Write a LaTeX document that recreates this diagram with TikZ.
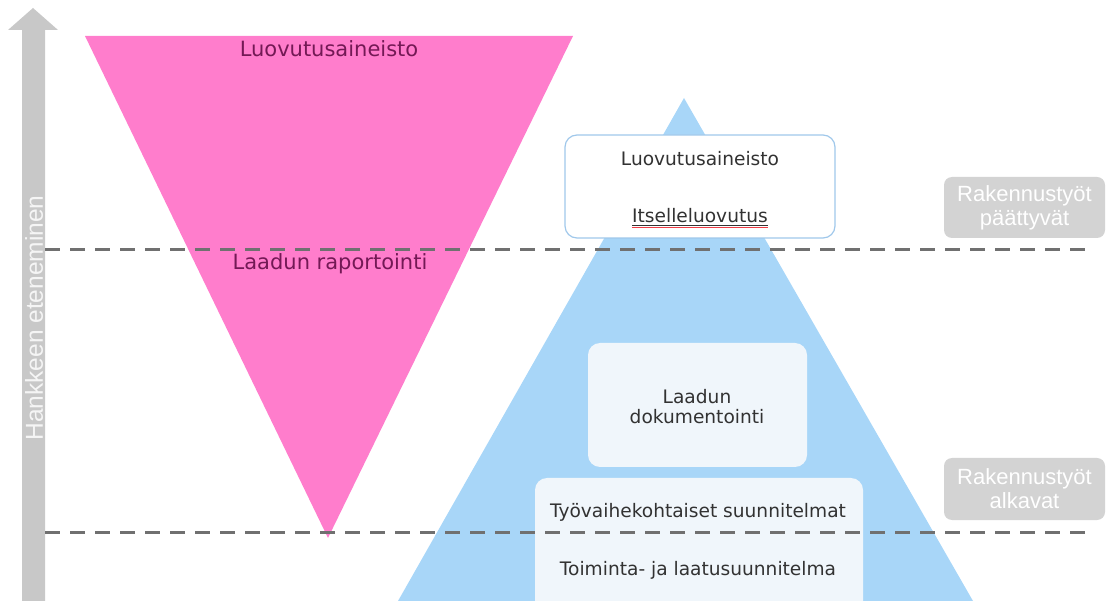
\documentclass[tikz,border=0pt]{standalone}
\usepackage{fontspec}
\setmainfont{DejaVu Sans}
\newfontfamily\axisfont{Liberation Sans}
\definecolor{pinkfill}{RGB}{255,125,204}
\definecolor{pinktext}{RGB}{115,25,85}
\definecolor{bluefill}{RGB}{168,214,248}
\definecolor{boxfill}{RGB}{240,246,251}
\definecolor{boxline}{RGB}{160,200,235}
\definecolor{darktext}{RGB}{50,50,50}
\definecolor{axisgray}{RGB}{200,200,200}
\definecolor{dashgray}{RGB}{112,112,112}
\definecolor{tagfill}{RGB}{211,211,211}
\definecolor{squiggle}{RGB}{240,60,70}
\begin{document}
\begin{tikzpicture}[x=1pt,y=-1pt,
  pinklabel/.style={font=\fontsize{21}{25}\selectfont, text=pinktext, inner sep=0pt},
  boxlabel/.style={font=\fontsize{18.6}{21}\selectfont, text=darktext, inner sep=0pt, align=center},
  lightbox/.style={fill=boxfill, rounded corners=12pt, inner sep=0pt},
  tagbox/.style={fill=tagfill, rounded corners=8pt, inner sep=0pt, align=center,
    text=white, font=\axisfont\fontsize{22}{24}\selectfont},
  phaseline/.style={dashgray, line width=3pt, dash pattern=on 15pt off 10pt}]
\useasboundingbox (0,0) rectangle (1109,601);
\clip (0,0) rectangle (1109,601);
% progress arrow
\fill[axisgray] (22,640) -- (22,30) -- (8,30) -- (33,8) -- (58,30) -- (45,30) -- (45,640) -- cycle;
\node[rotate=90, text={rgb,255:red,245;green,245;blue,245}, font=\axisfont\fontsize{24.5}{26}\selectfont, inner sep=0pt] (axislabel) at (34,318) {Hankkeen eteneminen};
% pink triangle
\fill[pinkfill] (85,36) -- (573,36) -- (328,538) -- cycle;
\node[pinklabel] (pinktop) at (329,49) {Luovutusaineisto};
\node[pinklabel] (pinkmid) at (330,264) {Laadun raportointi};
% blue triangle
\fill[bluefill] (684,98) -- (973,601) -- (398,601) -- cycle;
% boxes
\node[draw=boxline, line width=1.2pt, fill=white, rounded corners=12pt, minimum width=270pt, minimum height=103pt] (box1) at (700,186.5) {};
\node[boxlabel] (b1a) at (700,159) {Luovutusaineisto};
\node[boxlabel] (b1b) at (700,216) {Itselleluovutus};
\draw[darktext, line width=0.8pt] ([yshift=-2.5pt]b1b.base west) -- ([yshift=-2.5pt]b1b.base east);
\draw[squiggle, line width=1.2pt] ([yshift=-4.5pt]b1b.base west) -- ([yshift=-4.5pt]b1b.base east);
\node[lightbox, minimum width=219pt, minimum height=124pt] (box2) at (697.5,405) {};
\node[boxlabel] (b2) at (697,407) {Laadun\\[-1pt]dokumentointi};
\node[lightbox, minimum width=328pt, minimum height=160pt] (box3) at (699,558) {};
\node[boxlabel] (b3a) at (698,512) {Työvaihekohtaiset suunnitelmat};
\node[boxlabel] (b3b) at (698,570) {Toiminta- ja laatusuunnitelma};
% phase lines
\coordinate (d1s) at (45,250);
\coordinate (d1e) at (1090,250);
\coordinate (d2s) at (45,532);
\coordinate (d2e) at (1090,532);
\draw[phaseline] (d1s) -- (d1e);
\draw[phaseline] (d2s) -- (d2e);
% tags
\node[tagbox, minimum width=161pt, minimum height=61pt] (tagend) at (1024.5,207.5) {Rakennustyöt\\päättyvät};
\node[tagbox, minimum width=161pt, minimum height=62pt] (tagstart) at (1024.5,489) {Rakennustyöt\\alkavat};
\end{tikzpicture}
\end{document}
